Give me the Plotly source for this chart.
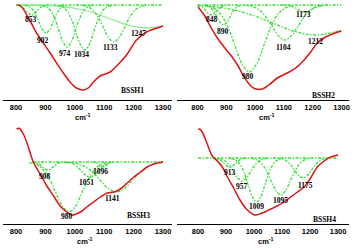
import plotly.graph_objects as go

TICKS = [800, 900, 1000, 1100, 1200, 1300]
PANEL_NAMES = ["BSSH1", "BSSH2", "BSSH3", "BSSH4"]

# ---------------- Panel 1 ----------------
P1_BASE = 5
P1_RED_X = [805, 816, 848, 870, 893, 916, 938, 961, 984, 1006, 1029, 1046, 1063, 1086, 1120, 1142, 1176, 1210, 1244, 1270, 1300]
P1_RED_Y = [5, 6, 21, 33, 43, 53, 63, 73, 82, 88, 90, 88, 82, 76, 72, 66, 55, 40, 32, 29, 26]
P1_BAND_X = [
    [800, 808, 817, 826, 835, 844, 853, 862, 871, 880, 889, 898, 907],
    [830, 842, 854, 866, 878, 890, 902, 914, 926, 938, 950, 962, 974],
    [890, 904, 918, 932, 946, 960, 974, 988, 1002, 1016, 1030, 1044, 1058],
    [944, 959, 974, 989, 1004, 1019, 1034, 1049, 1064, 1079, 1094, 1109, 1124],
    [1025, 1043, 1061, 1079, 1097, 1115, 1133, 1151, 1169, 1187, 1205, 1223, 1241],
]
P1_BAND_Y = [
    [5.1, 5.4, 6.4, 8.3, 11.1, 13.8, 15.0, 13.8, 11.1, 8.3, 6.4, 5.4, 5.1],
    [5.3, 6.2, 8.8, 14.1, 22.0, 29.7, 33.0, 29.7, 22.0, 14.1, 8.8, 6.2, 5.3],
    [5.5, 6.8, 10.7, 18.7, 30.5, 42.0, 47.0, 42.0, 30.5, 18.7, 10.7, 6.8, 5.5],
    [5.5, 7.0, 11.1, 19.6, 32.3, 44.7, 50.0, 44.7, 32.3, 19.6, 11.1, 7.0, 5.5],
    [5.4, 6.6, 10.0, 17.0, 27.5, 37.6, 42.0, 37.6, 27.5, 17.0, 10.0, 6.6, 5.4],
]
P1_WIDE_X = [800, 872, 934, 997, 1060, 1122, 1185, 1247, 1300]
P1_WIDE_Y = [5.0, 5.3, 6.0, 8.1, 12.5, 19.0, 25.3, 28.0, 25.9]
P1_LABELS = ["853", "902", "974", "1034", "1133", "1247"]
P1_LABEL_X = [850, 893, 967, 1023, 1122, 1216]
P1_LABEL_Y = [19, 40, 53, 54, 47, 33]

# ---------------- Panel 2 ----------------
P2_BASE = 5
P2_RED_X = [802, 823, 846, 869, 892, 915, 939, 962, 985, 1002, 1025, 1048, 1077, 1112, 1141, 1170, 1193, 1216, 1239, 1268, 1299]
P2_RED_Y = [7, 15, 27, 38, 47, 55, 65, 77, 86, 89, 89, 85, 78, 73, 68, 60, 52, 43, 38, 34, 31]
P2_BAND_X = [
    [800, 812, 821, 830, 839, 848, 857, 866, 875, 884, 893, 902],
    [824, 835, 846, 857, 868, 879, 890, 901, 912, 923, 934, 945, 956],
    [830, 855, 880, 905, 930, 955, 980, 1005, 1030, 1055, 1080, 1105, 1130],
    [969, 991, 1014, 1036, 1059, 1081, 1104, 1126, 1149, 1171, 1194, 1216, 1239],
    [1098, 1110, 1123, 1135, 1148, 1160, 1173, 1185, 1198, 1210, 1223, 1235, 1248],
    [800, 837, 912, 987, 1062, 1137, 1212, 1300],
]
P2_BAND_Y = [
    [5.3, 6.4, 8.3, 11.1, 13.8, 15.0, 13.8, 11.1, 8.3, 6.4, 5.4, 5.1],
    [5.2, 5.9, 7.7, 11.5, 17.1, 22.6, 25.0, 22.6, 17.1, 11.5, 7.7, 5.9, 5.2],
    [5.7, 7.9, 14.0, 26.8, 45.7, 64.1, 72.0, 64.1, 45.7, 26.8, 14.0, 7.9, 5.7],
    [5.4, 6.5, 9.7, 16.4, 26.2, 35.9, 40.0, 35.9, 26.2, 16.4, 9.7, 6.5, 5.4],
    [5.1, 5.3, 5.9, 7.3, 9.2, 11.2, 12.0, 11.2, 9.2, 7.3, 5.9, 5.3, 5.1],
    [5.7, 6.3, 9.1, 14.8, 23.2, 31.5, 35.0, 30.2],
]
P2_LABELS = ["848", "890", "980", "1104", "1173", "1212"]
P2_LABEL_X = [852, 887, 975, 1098, 1167, 1211]
P2_LABEL_Y = [19, 31, 76, 47, 14, 41]

# ---------------- Panel 3 ----------------
P3_BASE = 38
P3_RED_X = [802, 811, 825, 842, 859, 882, 905, 928, 950, 973, 990, 1019, 1041, 1064, 1087, 1110, 1133, 1155, 1178, 1201, 1224, 1246, 1269, 1300]
P3_RED_Y = [5, 4.3, 10, 23, 38, 50, 62, 72, 82, 88, 91, 88, 83, 78, 73, 69, 68, 65, 59, 53, 48, 43, 40, 38]
P3_BAND_X = [
    [854, 863, 872, 881, 890, 899, 908, 917, 926, 935, 944, 953, 962],
    [845, 868, 890, 913, 935, 958, 980, 1003, 1025, 1048, 1070, 1093, 1115],
    [967, 981, 995, 1009, 1023, 1037, 1051, 1065, 1079, 1093, 1107, 1121, 1135],
    [1060, 1066, 1072, 1078, 1084, 1090, 1096, 1102, 1108, 1114, 1120, 1126, 1132],
    [976, 1004, 1031, 1059, 1086, 1114, 1141, 1169, 1196, 1224, 1251, 1279, 1300],
]
P3_BAND_Y = [
    [38.1, 38.4, 39.1, 40.6, 42.9, 45.1, 46.0, 45.1, 42.9, 40.6, 39.1, 38.4, 38.1],
    [38.6, 40.2, 44.8, 54.3, 68.4, 82.1, 88.0, 82.1, 68.4, 54.3, 44.8, 40.2, 38.6],
    [38.2, 38.7, 40.0, 42.9, 47.1, 51.2, 53.0, 51.2, 47.1, 42.9, 40.0, 38.7, 38.2],
    [38.1, 38.2, 38.7, 39.6, 41.0, 42.4, 43.0, 42.4, 41.0, 39.6, 38.7, 38.2, 38.1],
    [38.3, 39.3, 42.1, 47.8, 56.2, 64.5, 68.0, 64.5, 56.2, 47.8, 42.1, 39.3, 38.4],
]
P3_LABELS = ["908", "980", "1051", "1096", "1141"]
P3_LABEL_X = [899, 973, 1039, 1087, 1127]
P3_LABEL_Y = [52, 92, 58, 47, 74]

# ---------------- Panel 4 ----------------
P4_BASE = 34
P4_RED_X = [801, 806, 815, 833, 851, 869, 887, 905, 929, 952, 976, 1002, 1030, 1060, 1083, 1107, 1131, 1155, 1179, 1202, 1226, 1250, 1274, 1300]
P4_RED_Y = [5.7, 5, 8, 20, 32, 37, 43, 53, 65, 77, 86, 91, 89, 85, 82, 78, 73, 68, 63, 54, 43, 37, 33, 31]
P4_BAND_X = [
    [853, 863, 873, 883, 893, 903, 913, 923, 933, 943, 953, 963, 973],
    [867, 882, 897, 912, 927, 942, 957, 972, 987, 1002, 1017, 1032, 1047],
    [919, 934, 949, 964, 979, 994, 1009, 1024, 1039, 1054, 1069, 1084, 1099],
    [990, 1008, 1025, 1043, 1060, 1078, 1095, 1113, 1130, 1148, 1165, 1183, 1200],
    [1085, 1100, 1115, 1130, 1145, 1160, 1175, 1190, 1205, 1220, 1235, 1250, 1265],
]
P4_BAND_Y = [
    [34.1, 34.4, 35.2, 36.9, 39.5, 41.9, 43.0, 41.9, 39.5, 36.9, 35.2, 34.4, 34.1],
    [34.3, 35.0, 37.1, 41.5, 48.0, 54.3, 57.0, 54.3, 48.0, 41.5, 37.1, 35.0, 34.3],
    [34.5, 35.9, 39.9, 48.3, 60.7, 72.8, 78.0, 72.8, 60.7, 48.3, 39.9, 35.9, 34.5],
    [34.4, 35.6, 39.0, 46.0, 56.5, 66.6, 71.0, 66.6, 56.5, 46.0, 39.0, 35.6, 34.4],
    [34.2, 34.9, 36.7, 40.5, 46.1, 51.6, 54.0, 51.6, 46.1, 40.5, 36.7, 34.9, 34.2],
]
P4_LABELS = ["913", "957", "1009", "1095", "1175"]
P4_LABEL_X = [913, 958, 1008, 1095, 1185]
P4_LABEL_Y = [48, 62, 82, 76, 61]

NAME_X = [1197, 1239, 1218, 1250]
NAME_Y = [90, 95, 91, 95]
UNIT_X = [1029, 1042, 1036, 1042]
BASE_START = [800, 800, 860, 800]

# ---------------- layout geometry ----------------
W, H = 354, 248
XDOM = [(3, 172), (177, 349), (3, 172), (177, 349)]
XRNG = [(755.8, 1330.6), (728.8, 1326.0), (755.8, 1330.6), (725.0, 1339.0)]
YDOM = [(0, 100), (0, 100), (124, 224), (124, 224)]
UNIT_PX = [117, 117, 241, 241]

GREEN = "#35e035"
DASH = "3px,1.5px,1.5px,1.5px"
RED = "#dd1414"

panels = [
    (P1_BASE, P1_RED_X, P1_RED_Y, P1_BAND_X, P1_BAND_Y, P1_LABELS, P1_LABEL_X, P1_LABEL_Y),
    (P2_BASE, P2_RED_X, P2_RED_Y, P2_BAND_X, P2_BAND_Y, P2_LABELS, P2_LABEL_X, P2_LABEL_Y),
    (P3_BASE, P3_RED_X, P3_RED_Y, P3_BAND_X, P3_BAND_Y, P3_LABELS, P3_LABEL_X, P3_LABEL_Y),
    (P4_BASE, P4_RED_X, P4_RED_Y, P4_BAND_X, P4_BAND_Y, P4_LABELS, P4_LABEL_X, P4_LABEL_Y),
]

fig = go.Figure()
annotations = []
label_font = dict(family="Liberation Serif", size=7.5, color="black", weight="bold")
sans_font = dict(family="Liberation Sans", size=7.5, color="black", weight="bold")

for i, (base, rx, ry, bx, by, labs, lx, ly) in enumerate(panels):
    k = "" if i == 0 else str(i + 1)
    xa, ya = "x" + k, "y" + k
    fig.add_trace(go.Scatter(x=[BASE_START[i], 1300], y=[base, base], mode="lines",
                             line=dict(color=GREEN, width=1.3, dash=DASH),
                             xaxis=xa, yaxis=ya, showlegend=False, hoverinfo="skip"))
    if i == 0:
        fig.add_trace(go.Scatter(x=P1_WIDE_X, y=P1_WIDE_Y, mode="lines",
                                 line=dict(color="#8fec8f", width=1.3, shape="spline"),
                                 xaxis=xa, yaxis=ya, showlegend=False, hoverinfo="skip"))
    for bxx, byy in zip(bx, by):
        fig.add_trace(go.Scatter(x=bxx, y=byy, mode="lines",
                                 line=dict(color=GREEN, width=1.3, dash=DASH, shape="spline"),
                                 xaxis=xa, yaxis=ya, showlegend=False, hoverinfo="skip"))
    fig.add_trace(go.Scatter(x=rx, y=ry, mode="lines",
                             line=dict(color=RED, width=1.5, shape="spline", smoothing=1.0),
                             xaxis=xa, yaxis=ya, showlegend=False, hoverinfo="skip"))
    for t, xx, yy in zip(labs, lx, ly):
        annotations.append(dict(x=xx, y=yy, xref=xa, yref=ya, text=t, showarrow=False,
                                font=label_font))
    annotations.append(dict(x=NAME_X[i], y=NAME_Y[i], xref=xa, yref=ya, text=PANEL_NAMES[i],
                            showarrow=False, font=label_font))
    annotations.append(dict(x=UNIT_X[i], y=1 - UNIT_PX[i] / H, xref=xa, yref="paper",
                            xanchor="center", yanchor="middle",
                            text="cm<sup>-1</sup>", showarrow=False, font=sans_font))

layout = dict(width=W, height=H, margin=dict(l=0, r=0, t=0, b=0),
              paper_bgcolor="white", plot_bgcolor="white", showlegend=False,
              annotations=annotations)
for i in range(4):
    k = "" if i == 0 else str(i + 1)
    x0, x1 = XDOM[i]
    y0, y1 = YDOM[i]
    layout["xaxis" + k] = dict(domain=[x0 / W, x1 / W], range=list(XRNG[i]), anchor="y" + k,
                               tickvals=TICKS, ticks="", showgrid=False, zeroline=False,
                               showline=True, linecolor="black", linewidth=1,
                               tickfont=sans_font)
    layout["yaxis" + k] = dict(domain=[1 - y1 / H, 1 - y0 / H], range=[100, 0], anchor="x" + k,
                               visible=False, showgrid=False, zeroline=False)
fig.update_layout(**layout)
fig.write_html("out.html", config={"displayModeBar": False},
               post_script="document.body.style.margin='0';document.body.style.padding='0';")
